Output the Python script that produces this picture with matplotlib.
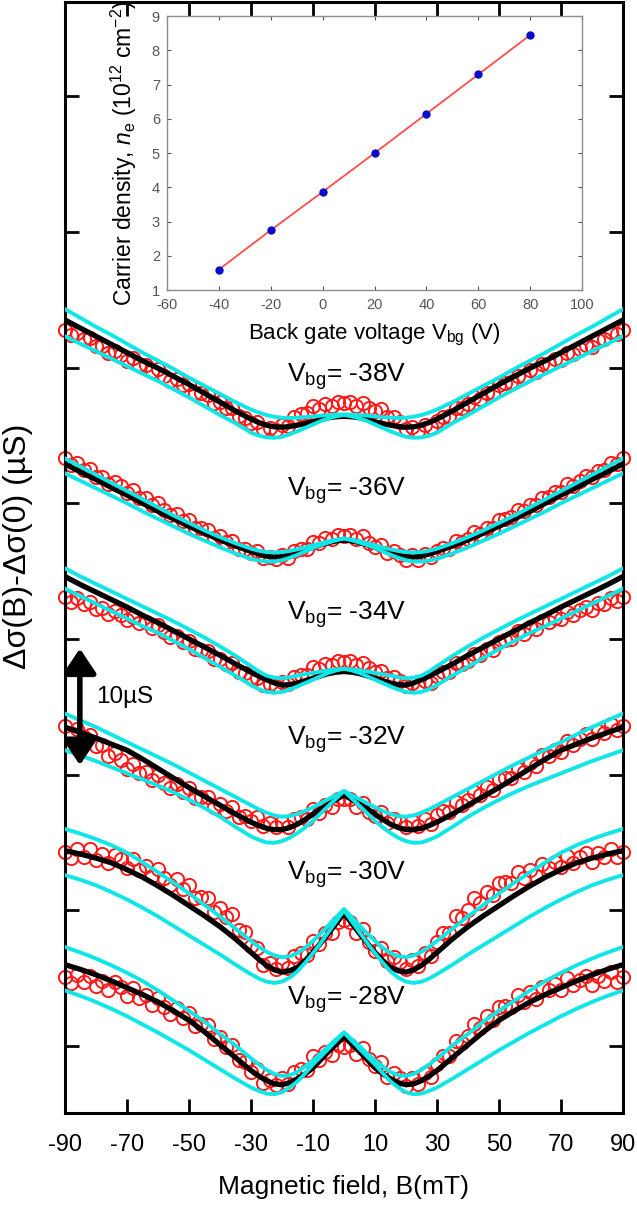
#!/usr/bin/env python3
"""Magnetoconductance curves at several back gate voltages, with carrier density inset."""

import matplotlib

matplotlib.use("Agg")
import matplotlib.pyplot as plt
import numpy as np
from matplotlib.patches import FancyArrowPatch

# field grids (mT): fits are finer around the dip
B_FIT = np.concatenate([np.arange(-90, -29, 5), np.arange(-27.5, 28, 2.5), np.arange(30, 91, 5)])
B_DATA = np.arange(-90, 91, 2)

GATE_LABELS = ["-38V", "-36V", "-34V", "-32V", "-30V", "-28V"]
LABEL_LEVELS = [49.3, 40.9, 31.8, 22.6, 12.6, 3.4]

# measured data (uS, offset per curve)
DATA_38 = [52.8, 52.4, 52.55, 52.1, 52.15, 51.55, 51.6, 51.1, 51.25, 50.95, 50.5, 50.7, 50.2, 50.2, 49.75, 49.9,
           49.4, 49.0, 49.15, 48.7, 48.75, 48.15, 48.1, 48.0, 47.4, 47.45, 47.0, 47.05, 46.4, 46.3, 45.9, 46.0,
           45.45, 45.55, 45.4, 45.75, 45.7, 46.35, 46.6, 46.65, 47.15, 46.95, 47.3, 47.15, 47.48, 47.4,
           47.48, 47.15, 47.4, 47.0, 46.8, 46.95, 46.35, 46.35, 45.95, 45.45, 45.65, 45.35, 45.75, 45.6, 46.05,
           46.35, 46.4, 47.05, 47.0, 47.3, 47.8, 47.7, 48.15, 48.1, 48.7, 48.85, 48.9, 49.4, 49.3, 49.8, 49.7,
           50.25, 50.25, 50.6, 50.55, 51.1, 51.0, 51.35, 51.65, 51.5, 52.05, 52.1, 52.6, 52.45, 52.8]
DATA_36 = [43.3, 42.85, 42.95, 42.45, 42.5, 41.95, 41.95, 41.4, 41.55, 41.25, 40.75, 40.95, 40.4, 40.35, 39.9,
           40.0, 39.5, 39.1, 39.2, 38.7, 38.8, 38.2, 38.15, 38.05, 37.45, 37.55, 37.15, 37.2, 36.65, 36.65, 36.3,
           36.45, 35.95, 36.05, 35.9, 36.15, 35.95, 36.45, 36.6, 36.6, 37.15, 37.05, 37.45, 37.35, 37.68, 37.6,
           37.68, 37.35, 37.55, 37.1, 36.8, 36.9, 36.35, 36.45, 36.2, 35.85, 36.15, 35.85, 36.25, 36.05, 36.45,
           36.7, 36.65, 37.2, 37.15, 37.4, 37.85, 37.75, 38.2, 38.15, 38.75, 38.85, 38.95, 39.5, 39.4, 39.9, 39.85,
           40.4, 40.45, 40.85, 40.8, 41.4, 41.3, 41.65, 42.0, 41.9, 42.4, 42.45, 43.0, 42.9, 43.3]
DATA_34 = [33.1, 32.75, 33.0, 32.6, 32.75, 32.2, 32.3, 31.85, 32.05, 31.8, 31.4, 31.65, 31.2, 31.25, 30.8, 31.0,
           30.5, 30.15, 30.25, 29.75, 29.85, 29.25, 29.2, 29.1, 28.5, 28.55, 28.15, 28.2, 27.6, 27.5, 27.1, 27.15,
           26.6, 26.7, 26.5, 26.8, 26.65, 27.2, 27.35, 27.35, 27.9, 27.8, 28.15, 28.05, 28.38, 28.3,
           28.38, 28.05, 28.25, 27.85, 27.55, 27.65, 27.1, 27.2, 26.9, 26.5, 26.75, 26.5, 26.9, 26.75, 27.25,
           27.55, 27.6, 28.2, 28.15, 28.4, 28.9, 28.8, 29.25, 29.2, 29.8, 29.9, 30.0, 30.55, 30.4, 30.9, 30.75,
           31.3, 31.25, 31.55, 31.45, 31.95, 31.8, 32.1, 32.35, 32.15, 32.65, 32.6, 33.05, 32.8, 33.1]
DATA_32 = [23.6, 23.05, 23.37, 22.75, 22.95, 22.13, 22.15, 21.35, 21.57, 21.08, 20.45, 20.8, 20.1, 20.2, 19.63,
           20.0, 19.42, 19.0, 19.32, 18.75, 19.0, 18.28, 18.38, 18.32, 17.6, 17.85, 17.35, 17.6, 16.88, 16.98, 16.6,
           16.9, 16.23, 16.45, 16.17, 16.52, 16.15, 16.75, 16.88, 16.73, 17.45, 17.2, 17.75, 17.63, 18.2, 18.2,
           18.2, 17.58, 17.9, 17.27, 16.93, 17.22, 16.45, 16.75, 16.53, 16.13, 16.6, 16.2, 16.72, 16.4, 17.03,
           17.35, 17.23, 18.0, 17.8, 18.12, 18.75, 18.48, 19.1, 18.9, 19.67, 19.73, 19.75, 20.45, 20.18, 20.85,
           20.65, 21.42, 21.37, 21.85, 21.68, 22.45, 22.2, 22.63, 22.97, 22.6, 23.25, 23.1, 23.7, 23.28, 23.6]
DATA_30 = [14.3, 13.85, 14.5, 13.95, 14.5, 13.7, 14.15, 13.5, 14.1, 13.75, 13.1, 13.75, 13.0, 13.25, 12.55, 13.05,
           12.35, 11.85, 12.3, 11.55, 11.85, 10.9, 11.0, 10.9, 9.9, 10.2, 9.5, 9.7, 8.55, 8.4, 7.4, 7.25, 6.0,
           6.1, 5.65, 6.15, 5.75, 6.65, 6.85, 6.7, 7.75, 7.5, 8.35, 8.3, 9.15, 9.3,
           9.15, 8.3, 8.6, 7.65, 7.0, 7.25, 6.25, 6.55, 6.2, 5.65, 6.35, 5.9, 6.85, 6.65, 7.7, 8.35, 8.35, 9.6,
           9.45, 10.0, 10.9, 10.55, 11.35, 11.1, 12.05, 12.1, 12.05, 12.85, 12.35, 13.0, 12.55, 13.4, 13.15, 13.6,
           13.2, 14.0, 13.5, 13.9, 14.2, 13.55, 14.25, 13.9, 14.55, 13.95, 14.3]
DATA_28 = [5.1, 4.65, 5.25, 4.7, 5.2, 4.4, 4.8, 4.1, 4.7, 4.35, 3.7, 4.3, 3.55, 3.75, 3.05, 3.55, 2.85, 2.35, 2.8,
           2.05, 2.45, 1.5, 1.65, 1.55, 0.5, 0.7, -0.1, 0.1, -1.05, -1.15, -1.9, -1.7, -2.75, -2.5, -2.85, -2.35,
           -2.8, -1.9, -1.7, -1.75, -0.75, -1.05, -0.4, -0.65, 0.05, -0.05,
           0.05, -0.6, -0.15, -0.95, -1.45, -1.2, -2.25, -1.95, -2.35, -2.95, -2.35, -2.8, -1.95, -2.25, -1.3,
           -0.75, -0.75, 0.4, 0.25, 0.75, 1.65, 1.35, 2.2, 1.9, 2.9, 2.95, 2.9, 3.75, 3.25, 3.95, 3.5, 4.35, 4.1,
           4.55, 4.15, 5.0, 4.5, 4.9, 5.15, 4.5, 5.15, 4.8, 5.45, 4.75, 5.1]

# fitted curve (black) and its bounds (cyan)
FIT_38 = [53.5, 52.9, 52.3, 51.7, 51.1, 50.5, 49.95, 49.35, 48.75, 48.1, 47.45, 46.8, 46.2, 45.95, 45.75, 45.63,
          45.6, 45.65, 45.75, 45.87, 46.0, 46.17, 46.3, 46.37, 46.4, 46.37, 46.3, 46.17, 46.0, 45.87, 45.75, 45.65,
          45.6, 45.63, 45.75, 45.95, 46.2, 46.8, 47.45, 48.1, 48.75, 49.35, 49.95, 50.5, 51.1, 51.7, 52.3, 52.9, 53.5]
UPPER_38 = [54.3, 53.65, 53.0, 52.4, 51.75, 51.1, 50.5, 49.9, 49.25, 48.65, 48.05, 47.45, 46.9, 46.68, 46.5, 46.37,
            46.3, 46.28, 46.3, 46.34, 46.4, 46.45, 46.5, 46.53, 46.55, 46.53, 46.5, 46.45, 46.4, 46.34, 46.3, 46.28,
            46.3, 46.37, 46.5, 46.68, 46.9, 47.45, 48.05, 48.65, 49.25, 49.9, 50.5, 51.1, 51.75, 52.4, 53.0, 53.65,
            54.3]
LOWER_38 = [52.3, 51.75, 51.2, 50.65, 50.1, 49.55, 49.0, 48.4, 47.8, 47.15, 46.5, 45.9, 45.2, 44.98, 44.85, 44.82,
            44.9, 45.08, 45.3, 45.55, 45.8, 46.05, 46.25, 46.4, 46.5, 46.4, 46.25, 46.05, 45.8, 45.55, 45.3, 45.08,
            44.9, 44.82, 44.85, 44.98, 45.2, 45.9, 46.5, 47.15, 47.8, 48.4, 49.0, 49.55, 50.1, 50.65, 51.2, 51.75,
            52.3]
FIT_36 = [42.9, 42.3, 41.75, 41.15, 40.6, 40.0, 39.4, 38.85, 38.3, 37.8, 37.3, 36.85, 36.45, 36.26, 36.1, 36.03,
          36.05, 36.18, 36.35, 36.55, 36.75, 36.94, 37.1, 37.22, 37.3, 37.22, 37.1, 36.94, 36.75, 36.55, 36.35, 36.18,
          36.05, 36.03, 36.1, 36.26, 36.45, 36.85, 37.3, 37.8, 38.3, 38.85, 39.4, 40.0, 40.6, 41.15, 41.75, 42.3, 42.9]
UPPER_36 = [43.3, 42.7, 42.1, 41.5, 40.9, 40.3, 39.7, 39.1, 38.55, 38.0, 37.5, 37.05, 36.65, 36.5, 36.4, 36.37,
            36.4, 36.48, 36.6, 36.74, 36.9, 37.05, 37.2, 37.32, 37.4, 37.32, 37.2, 37.05, 36.9, 36.74, 36.6, 36.48,
            36.4, 36.37, 36.4, 36.5, 36.65, 37.05, 37.5, 38.0, 38.55, 39.1, 39.7, 40.3, 40.9, 41.5, 42.1, 42.7, 43.3]
LOWER_36 = [42.2, 41.65, 41.1, 40.55, 40.0, 39.4, 38.85, 38.3, 37.75, 37.25, 36.75, 36.3, 35.9, 35.78, 35.7, 35.7,
            35.8, 35.98, 36.2, 36.45, 36.7, 36.92, 37.1, 37.27, 37.4, 37.27, 37.1, 36.92, 36.7, 36.45, 36.2, 35.98,
            35.8, 35.7, 35.7, 35.78, 35.9, 36.3, 36.75, 37.25, 37.75, 38.3, 38.85, 39.4, 40.0, 40.55, 41.1, 41.65, 42.2]
FIT_34 = [34.6, 34.0, 33.45, 32.9, 32.35, 31.75, 31.2, 30.6, 30.0, 29.4, 28.8, 28.15, 27.55, 27.26, 27.0, 26.76,
          26.6, 26.63, 26.75, 26.92, 27.1, 27.28, 27.45, 27.55, 27.6, 27.55, 27.45, 27.28, 27.1, 26.92, 26.75, 26.63,
          26.6, 26.76, 27.0, 27.26, 27.55, 28.15, 28.8, 29.4, 30.0, 30.6, 31.2, 31.75, 32.35, 32.9, 33.45, 34.0, 34.6]
UPPER_34 = [35.2, 34.6, 34.05, 33.5, 32.95, 32.4, 31.85, 31.3, 30.7, 30.1, 29.45, 28.75, 28.0, 27.6, 27.3, 27.15,
            27.1, 27.18, 27.3, 27.4, 27.5, 27.6, 27.7, 27.76, 27.8, 27.76, 27.7, 27.6, 27.5, 27.4, 27.3, 27.18, 27.1,
            27.15, 27.3, 27.6, 28.0, 28.75, 29.45, 30.1, 30.7, 31.3, 31.85, 32.4, 32.95, 33.5, 34.05, 34.6, 35.2]
LOWER_34 = [33.7, 33.15, 32.6, 32.05, 31.5, 30.95, 30.45, 29.85, 29.25, 28.6, 27.95, 27.3, 26.6, 26.3, 26.1, 26.03,
            26.1, 26.27, 26.5, 26.75, 27.0, 27.25, 27.5, 27.68, 27.8, 27.68, 27.5, 27.25, 27.0, 26.75, 26.5, 26.27,
            26.1, 26.03, 26.1, 26.3, 26.6, 27.3, 27.95, 28.6, 29.25, 29.85, 30.45, 30.95, 31.5, 32.05, 32.6, 33.15, 33.7]
FIT_32 = [23.5, 23.1, 22.7, 22.25, 21.8, 21.15, 20.45, 19.75, 19.05, 18.4, 17.75, 17.1, 16.5, 16.25, 16.05, 15.95,
          15.95, 16.1, 16.35, 16.7, 17.1, 17.48, 17.85, 18.18, 18.5, 18.18, 17.85, 17.48, 17.1, 16.7, 16.35, 16.1,
          15.95, 15.95, 16.05, 16.25, 16.5, 17.1, 17.75, 18.4, 19.05, 19.75, 20.45, 21.15, 21.8, 22.25, 22.7, 23.1, 23.5]
UPPER_32 = [24.5, 24.0, 23.5, 22.95, 22.4, 21.85, 21.3, 20.75, 20.15, 19.55, 18.95, 18.35, 17.75, 17.45, 17.2, 17.0,
            16.9, 16.95, 17.1, 17.33, 17.6, 17.9, 18.2, 18.5, 18.8, 18.5, 18.2, 17.9, 17.6, 17.33, 17.1, 16.95, 16.9,
            17.0, 17.2, 17.45, 17.75, 18.35, 18.95, 19.55, 20.15, 20.75, 21.3, 21.85, 22.4, 22.95, 23.5, 24.0, 24.5]
LOWER_32 = [21.8, 21.4, 21.0, 20.55, 20.1, 19.65, 19.2, 18.7, 18.15, 17.55, 16.9, 16.15, 15.45, 15.2, 15.0, 14.98,
            15.1, 15.35, 15.7, 16.12, 16.6, 17.15, 17.7, 18.25, 18.8, 18.25, 17.7, 17.15, 16.6, 16.12, 15.7, 15.35,
            15.1, 14.98, 15.0, 15.2, 15.45, 16.15, 16.9, 17.55, 18.15, 18.7, 19.2, 19.65, 20.1, 20.55, 21.0, 21.4, 21.8]
FIT_30 = [14.4, 14.15, 13.85, 13.5, 13.0, 12.45, 11.8, 11.1, 10.35, 9.6, 8.8, 7.9, 6.9, 6.4, 5.95, 5.62, 5.45, 5.55,
          5.8, 6.3, 6.9, 7.6, 8.3, 9.05, 9.8, 9.05, 8.3, 7.6, 6.9, 6.3, 5.8, 5.55, 5.45, 5.62, 5.95, 6.4, 6.9, 7.9,
          8.8, 9.6, 10.35, 11.1, 11.8, 12.45, 13.0, 13.5, 13.85, 14.15, 14.4]
UPPER_30 = [16.0, 15.65, 15.25, 14.8, 14.25, 13.55, 12.8, 12.05, 11.25, 10.4, 9.55, 8.65, 7.75, 7.32, 6.95, 6.68,
            6.55, 6.62, 6.85, 7.25, 7.75, 8.3, 8.9, 9.5, 10.1, 9.5, 8.9, 8.3, 7.75, 7.25, 6.85, 6.62, 6.55, 6.68,
            6.95, 7.32, 7.75, 8.65, 9.55, 10.4, 11.25, 12.05, 12.8, 13.55, 14.25, 14.8, 15.25, 15.65, 16.0]
LOWER_30 = [12.6, 12.25, 11.85, 11.35, 10.8, 10.2, 9.55, 8.85, 8.15, 7.45, 6.75, 6.0, 5.3, 4.98, 4.75, 4.65, 4.75,
            5.05, 5.5, 6.15, 6.85, 7.6, 8.4, 9.2, 10.0, 9.2, 8.4, 7.6, 6.85, 6.15, 5.5, 5.05, 4.75, 4.65, 4.75, 4.98,
            5.3, 6.0, 6.75, 7.45, 8.15, 8.85, 9.55, 10.2, 10.8, 11.35, 11.85, 12.25, 12.6]
FIT_28 = [6.0, 5.65, 5.25, 4.8, 4.3, 3.8, 3.25, 2.6, 1.9, 1.05, 0.1, -0.85, -1.8, -2.2, -2.55, -2.78, -2.85, -2.7,
          -2.4, -2.05, -1.6, -1.0, -0.4, 0.15, 0.7, 0.15, -0.4, -1.0, -1.6, -2.05, -2.4, -2.7, -2.85, -2.78, -2.55,
          -2.2, -1.8, -0.85, 0.1, 1.05, 1.9, 2.6, 3.25, 3.8, 4.3, 4.8, 5.25, 5.65, 6.0]
UPPER_28 = [7.3, 6.9, 6.45, 5.95, 5.4, 4.8, 4.1, 3.35, 2.6, 1.8, 0.9, 0.05, -0.9, -1.35, -1.75, -2.05, -2.2, -2.15,
            -1.9, -1.5, -1.05, -0.55, 0.0, 0.5, 1.0, 0.5, 0.0, -0.55, -1.05, -1.5, -1.9, -2.15, -2.2, -2.05, -1.75,
            -1.35, -0.9, 0.05, 0.9, 1.8, 2.6, 3.35, 4.1, 4.8, 5.4, 5.95, 6.45, 6.9, 7.3]
LOWER_28 = [4.1, 3.7, 3.25, 2.75, 2.2, 1.6, 1.0, 0.35, -0.3, -1.0, -1.7, -2.4, -3.05, -3.3, -3.5, -3.55, -3.4, -3.05,
            -2.6, -2.0, -1.35, -0.78, -0.2, 0.4, 1.0, 0.4, -0.2, -0.78, -1.35, -2.0, -2.6, -3.05, -3.4, -3.55, -3.5,
            -3.3, -3.05, -2.4, -1.7, -1.0, -0.3, 0.35, 1.0, 1.6, 2.2, 2.75, 3.25, 3.7, 4.1]

# inset: carrier density vs back gate voltage
VBG = [-40, -20, 0, 20, 40, 60, 80]
DENSITY = [1.6, 2.75, 3.87, 5.0, 6.15, 7.3, 8.45]

CYAN = "#10e6e6"


def configure_matplotlib() -> None:
    plt.rcParams.update(
        {
            "font.family": ["Liberation Sans", "DejaVu Sans"],
            "axes.unicode_minus": False,
            "mathtext.fontset": "custom",
            "mathtext.rm": "Liberation Sans",
            "mathtext.it": "Liberation Sans:italic",
            "mathtext.bf": "Liberation Sans:bold",
        }
    )


def draw_curves(ax) -> None:
    curves = [
        (DATA_38, FIT_38, UPPER_38, LOWER_38),
        (DATA_36, FIT_36, UPPER_36, LOWER_36),
        (DATA_34, FIT_34, UPPER_34, LOWER_34),
        (DATA_32, FIT_32, UPPER_32, LOWER_32),
        (DATA_30, FIT_30, UPPER_30, LOWER_30),
        (DATA_28, FIT_28, UPPER_28, LOWER_28),
    ]
    for data, fit, upper, lower in curves:
        ax.plot(B_DATA, data, "o", mfc="none", mec="#ff1a1a", ms=9.5, mew=1.4, zorder=2, clip_on=False)
        ax.plot(B_FIT, fit, color="black", lw=3.8, zorder=3)
        ax.plot(B_FIT, upper, color=CYAN, lw=2.8, zorder=4)
        ax.plot(B_FIT, lower, color=CYAN, lw=2.8, zorder=4)

    for label, level in zip(GATE_LABELS, LABEL_LEVELS):
        ax.text(1, level, r"V$_{\mathrm{bg}}$= " + label, fontsize=19, ha="center", va="center", zorder=6)


def render(path: str) -> None:
    fig = plt.figure(figsize=(6.37, 12.14), dpi=100)
    ax = fig.add_axes([0.102, 0.0832, 0.876, 0.9148])

    draw_curves(ax)

    ax.set_xlim(-90, 90)
    ax.set_ylim(-4.93, 76.9)
    ax.set_xticks(np.arange(-90, 91, 20))
    ax.set_yticks(np.arange(0, 71, 10))
    ax.set_yticklabels([])
    ax.tick_params(direction="in", length=10, width=2, top=True, right=True, labelsize=17, pad=15)
    for spine in ax.spines.values():
        spine.set_linewidth(2.2)
    ax.set_xlabel("Magnetic field, B(mT)", fontsize=19, labelpad=14)
    ax.set_ylabel("\u0394\u03c3(B)-\u0394\u03c3(0) (\u00b5S)", fontsize=23)
    ax.yaxis.set_label_coords(-0.058, 0.51)

    # 10 uS scale bar
    bar = FancyArrowPatch((-85.2, 20.5), (-85.2, 29.5), arrowstyle="<|-|>,head_width=0.5,head_length=0.75",
                          mutation_scale=20, lw=4, color="black", zorder=7)
    ax.add_patch(bar)
    ax.text(-80, 25.7, "10\u00b5S", fontsize=17.5, ha="left", va="center")

    # inset
    ins = fig.add_axes([0.262, 0.761, 0.652, 0.2257])
    ins.plot(VBG, DENSITY, color="#ff4d4d", lw=1.3, zorder=2)
    ins.plot(VBG, DENSITY, "o", color="#0a0acc", ms=5, zorder=3)
    ins.set_xlim(-60, 100)
    ins.set_ylim(1, 9)
    ins.set_xticks(np.arange(-60, 101, 20))
    ins.set_yticks(np.arange(1, 10, 1))
    ins.tick_params(direction="in", length=3, width=0.8, colors="#555555", labelsize=10.5,
                    top=True, right=True)
    ins.tick_params(axis="x", pad=6)
    ins.tick_params(axis="y", pad=5)
    for spine in ins.spines.values():
        spine.set_color("#8c8c8c")
        spine.set_linewidth(1.0)
    ins.set_xlabel(r"Back gate voltage V$_{\mathrm{bg}}$ (V)", fontsize=16, labelpad=7)
    ins.set_ylabel(r"Carrier density, $n_{\mathrm{e}}$ (10$^{12}$ cm$^{-2}$)", fontsize=16.5, labelpad=9)

    fig.savefig(path, dpi=100)
    plt.close(fig)


def main() -> int:
    configure_matplotlib()
    render("out.png")
    return 0


if __name__ == "__main__":
    raise SystemExit(main())
